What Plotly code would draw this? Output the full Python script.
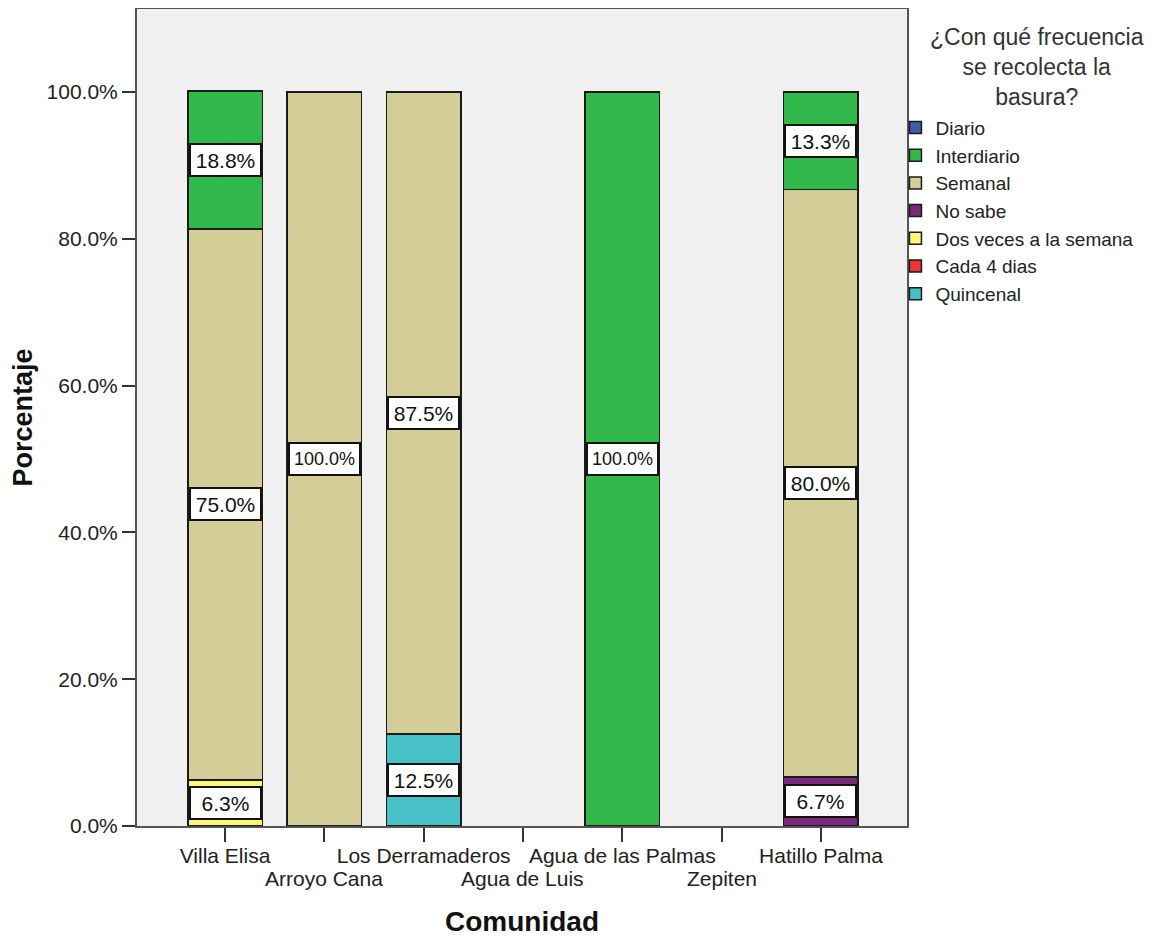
import plotly.graph_objects as go

# communities along the x axis
comunidades = ["Villa Elisa", "Arroyo Cana", "Los Derramaderos", "Agua de Luis",
               "Agua de las Palmas", "Zepiten", "Hatillo Palma"]

# percentage per answer, one value per community (None = no data)
diario = [None, None, None, None, None, None, None]
interdiario = [18.8, None, None, None, 100.0, None, 13.3]
semanal = [75.0, 100.0, 87.5, None, None, None, 80.0]
no_sabe = [None, None, None, None, None, None, 6.7]
dos_veces = [6.3, None, None, None, None, None, None]
cada_4 = [None, None, None, None, None, None, None]
quincenal = [None, None, 12.5, None, None, None, None]

y_ticks = [0, 20, 40, 60, 80, 100]

# stacked bottom -> top
series = [
    ("Quincenal", quincenal, "#47C1C5"),
    ("Cada 4 dias", cada_4, "#EE3338"),
    ("Dos veces a la semana", dos_veces, "#FBF876"),
    ("No sabe", no_sabe, "#79287A"),
    ("Semanal", semanal, "#D3CE97"),
    ("Interdiario", interdiario, "#30B84A"),
    ("Diario", diario, "#3C5BA8"),
]

font = "Liberation Sans, Arial, sans-serif"
fig = go.Figure()
for name, vals, color in series:
    fig.add_trace(go.Bar(
        x=list(range(len(comunidades))), y=vals, name=name,
        marker=dict(color=color, line=dict(color="#1a1a1a", width=1.5)),
        width=0.75, hoverinfo="skip",
    ))

# value labels centred in each segment
base = [0.0] * len(comunidades)
for name, vals, color in series:
    for i, v in enumerate(vals):
        if v:
            txt = f"{v:.1f}%"
            fig.add_annotation(
                x=i, y=base[i] + v / 2, text=txt, showarrow=False,
                font=dict(family=font, size=21 if len(txt) < 6 else 18, color="#111111"),
                bgcolor="white", bordercolor="#111111", borderwidth=2,
                borderpad=2, width=65, height=26,
            )
            base[i] += v

# staggered category labels: even ones as tick labels, odd ones one row lower
tick_text = [c if i % 2 == 0 else "" for i, c in enumerate(comunidades)]
for i in range(1, len(comunidades), 2):
    fig.add_shape(type="line", xref="x", yref="y", x0=i, x1=i,
                  ysizemode="pixel", yanchor=0, y0=0, y1=-37,
                  line=dict(color="#333333", width=2))
    fig.add_annotation(x=i, y=0, yanchor="top", yshift=-39, text=comunidades[i],
                       showarrow=False, font=dict(family=font, size=21, color="#222222"))

# legend title, centred over the legend
fig.add_annotation(
    xref="paper", yref="paper", x=1.169, y=0.984, xanchor="center", yanchor="top",
    text="¿Con qué frecuencia<br>se recolecta la<br>basura?", align="center",
    showarrow=False, font=dict(family=font, size=23, color="#333333"),
)

fig.update_layout(
    barmode="stack",
    width=1163, height=934,
    margin=dict(l=129, r=264, t=1, b=116, autoexpand=False),
    paper_bgcolor="white", plot_bgcolor="#F0F0F0",
    font=dict(family=font, size=19, color="#222222"),
    legend=dict(
        traceorder="reversed",
        x=0.985, xanchor="left", y=0.878, yanchor="top",
        font=dict(size=19, color="#222222"), tracegroupgap=0,
        itemwidth=30, bgcolor="rgba(0,0,0,0)",
    ),
    showlegend=True,
)
fig.update_xaxes(
    range=[-0.886, 6.866], tickmode="array",
    tickvals=list(range(len(comunidades))), ticktext=tick_text, tickangle=0,
    ticks="outside", ticklen=14, tickwidth=2, tickcolor="#333333",
    tickfont=dict(size=21, color="#222222"), ticklabelstandoff=-4,
    showgrid=False, zeroline=False, automargin=False,
    showline=True, linecolor="#555555", linewidth=2, mirror=True,
    title=dict(text="<b>Comunidad</b>", font=dict(size=28, color="#111111"), standoff=45),
)
fig.update_yaxes(
    range=[0, 111.3], tickmode="array", tickvals=y_ticks,
    ticktext=[f"{t:.1f}%" for t in y_ticks],
    ticks="outside", ticklen=13, tickwidth=2, tickcolor="#333333",
    tickfont=dict(size=21, color="#222222"),
    showgrid=False, zeroline=False, automargin=False,
    showline=True, linecolor="#555555", linewidth=2, mirror=True,
    title=dict(text="<b>Porcentaje</b>", font=dict(size=27, color="#111111"), standoff=7),
)

fig.write_html("out.html")
